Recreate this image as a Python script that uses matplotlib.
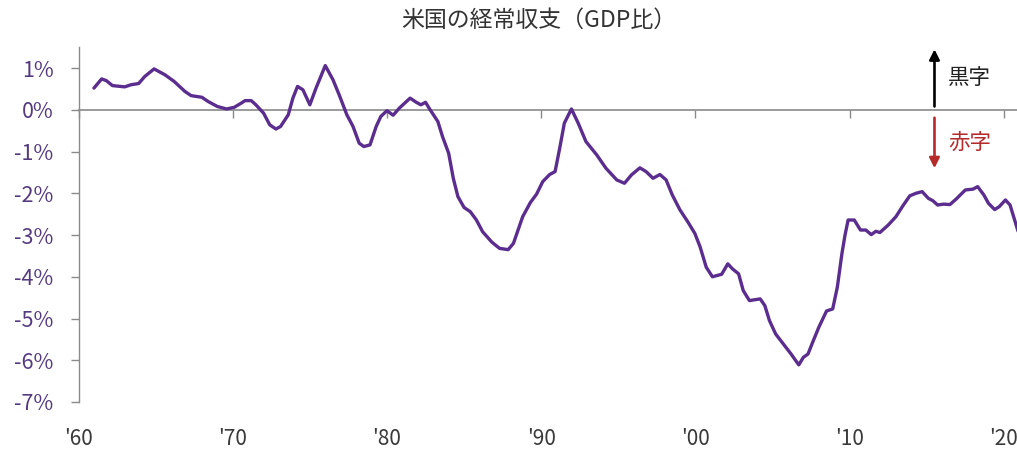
import matplotlib
matplotlib.use("Agg")
import matplotlib.pyplot as plt

plt.rcParams['font.family'] = ['Noto Sans CJK JP', 'DejaVu Sans']

title = "米国の経常収支（GDP比）"

years = [
    1961.0, 1961.5, 1961.8, 1962.2, 1962.7, 1963.0, 1963.4, 1963.9, 1964.3, 1964.9,
    1965.6, 1966.2, 1966.9, 1967.3, 1968.0, 1968.4, 1969.0, 1969.6, 1970.1, 1970.55,
    1970.8, 1971.2, 1971.5, 1972.0, 1972.4, 1972.8, 1973.1, 1973.6, 1973.9, 1974.2,
    1974.55, 1975.0, 1975.4, 1976.0, 1976.5, 1976.9, 1977.4, 1977.8, 1978.2, 1978.5,
    1978.9, 1979.3, 1979.6, 1980.0, 1980.4, 1980.8, 1981.5, 1981.9, 1982.2, 1982.5,
    1982.8, 1983.3, 1983.6, 1984.0, 1984.3, 1984.6, 1985.0, 1985.4, 1985.8, 1986.2,
    1986.8, 1987.3, 1987.86, 1988.2, 1988.5, 1988.8, 1989.3, 1989.7, 1990.1, 1990.55,
    1990.9, 1991.2, 1991.5, 1991.96, 1992.4, 1992.9, 1993.6, 1994.2, 1994.9, 1995.4,
    1995.85, 1996.4, 1996.8, 1997.25, 1997.7, 1998.1, 1998.5, 1999.0, 1999.5, 1999.96,
    2000.3, 2000.7, 2001.1, 2001.7, 2002.1, 2002.4, 2002.8, 2003.1, 2003.5, 2004.2,
    2004.5, 2004.8, 2005.2, 2005.7, 2006.2, 2006.7, 2007.0, 2007.3, 2007.6, 2008.0,
    2008.5, 2008.9, 2009.2, 2009.5, 2009.7, 2009.9, 2010.3, 2010.7, 2011.05, 2011.4,
    2011.7, 2011.96, 2012.5, 2013.0, 2013.45, 2013.9, 2014.3, 2014.7, 2015.1, 2015.4,
    2015.7, 2016.1, 2016.5, 2016.9, 2017.2, 2017.5, 2018.0, 2018.3, 2018.7, 2019.0,
    2019.4, 2019.7, 2020.1, 2020.4, 2020.8, 2020.95,
]
balance_pct = [
    0.52, 0.74, 0.70, 0.58, 0.56, 0.55, 0.60, 0.63, 0.80, 0.98,
    0.84, 0.68, 0.44, 0.34, 0.30, 0.20, 0.08, 0.02, 0.06, 0.16,
    0.22, 0.22, 0.12, -0.08, -0.36, -0.46, -0.40, -0.12, 0.28, 0.56,
    0.48, 0.12, 0.52, 1.06, 0.72, 0.36, -0.12, -0.40, -0.80, -0.88,
    -0.84, -0.40, -0.16, -0.02, -0.13, 0.04, 0.28, 0.18, 0.12, 0.18,
    0.00, -0.28, -0.64, -1.04, -1.64, -2.08, -2.34, -2.44, -2.64, -2.92,
    -3.17, -3.32, -3.35, -3.20, -2.88, -2.56, -2.22, -2.02, -1.72, -1.55,
    -1.48, -0.92, -0.32, 0.02, -0.32, -0.76, -1.08, -1.40, -1.68, -1.76,
    -1.56, -1.39, -1.48, -1.64, -1.55, -1.68, -2.04, -2.40, -2.68, -2.96,
    -3.28, -3.77, -4.00, -3.94, -3.69, -3.81, -3.93, -4.33, -4.57, -4.53,
    -4.69, -5.05, -5.37, -5.61, -5.85, -6.11, -5.93, -5.85, -5.57, -5.21,
    -4.82, -4.77, -4.25, -3.44, -3.00, -2.64, -2.64, -2.88, -2.88, -2.99,
    -2.91, -2.94, -2.76, -2.56, -2.30, -2.06, -2.00, -1.96, -2.12, -2.18,
    -2.28, -2.26, -2.27, -2.14, -2.03, -1.92, -1.90, -1.84, -2.04, -2.24,
    -2.39, -2.32, -2.16, -2.28, -2.76, -2.95,
]

ytick_values = [1, 0, -1, -2, -3, -4, -5, -6, -7]
ytick_labels = ["1%", "0%", "-1%", "-2%", "-3%", "-4%", "-5%", "-6%", "-7%"]
xtick_values = [1960, 1970, 1980, 1990, 2000, 2010, 2020]
xtick_labels = ["'60", "'70", "'80", "'90", "'00", "'10", "'20"]
surplus_label = "黒字"
deficit_label = "赤字"

LINE = "#5b2d8e"
AXIS = "#8a8a8a"
YLAB = "#553a80"
XLAB = "#3a3a3a"
RED = "#b52a2a"

fig = plt.figure(figsize=(10.17, 4.5), dpi=100)
ax = fig.add_axes([78.5 / 1017, 48 / 450, 1 - 78.5 / 1017, (402.4 - 47.6) / 450])

ax.plot(years, balance_pct, color=LINE, lw=2.4, solid_capstyle='round', zorder=3)

ax.set_xlim(1960, 2020.85)
ax.set_ylim(-7, 1.5)

for s in ['top', 'right']:
    ax.spines[s].set_visible(False)
ax.spines['left'].set_color(AXIS)
ax.spines['left'].set_linewidth(1.0)
ax.spines['bottom'].set_position(('data', 0))
ax.spines['bottom'].set_color(AXIS)
ax.spines['bottom'].set_linewidth(1.2)

ax.set_yticks(ytick_values)
ax.set_yticklabels(ytick_labels)
ax.tick_params(axis='y', direction='out', length=6, width=1.0, color=AXIS,
               pad=12, labelsize=15.5, labelcolor=YLAB)

ax.set_xticks(xtick_values)
ax.tick_params(axis='x', direction='out', length=6, width=1.0, color=AXIS,
               labelbottom=False)

sec = ax.secondary_xaxis('bottom')
sec.set_xticks(xtick_values)
sec.set_xticklabels(xtick_labels)
sec.spines['bottom'].set_visible(False)
sec.tick_params(axis='x', length=0, pad=19, labelsize=15, labelcolor=XLAB)

fig.text(539 / 1017, 1 - 20 / 450, title, ha='center', va='center', fontsize=16.5, color='#333333')

ax.annotate("", xy=(2015.5, 1.45), xytext=(2015.5, 0.08),
            arrowprops=dict(arrowstyle='-|>', lw=1.9, color='black', mutation_scale=15,
                            shrinkA=0, shrinkB=0))
ax.text(2016.4, 0.77, surplus_label, ha='left', va='center', fontsize=15.5, color='#222222')
ax.annotate("", xy=(2015.5, -1.4), xytext=(2015.5, -0.19),
            arrowprops=dict(arrowstyle='-|>', lw=1.9, color=RED, mutation_scale=15,
                            shrinkA=0, shrinkB=0))
ax.text(2016.4, -0.8, deficit_label, ha='left', va='center', fontsize=15.5, color=RED)

fig.savefig("out.png", dpi=100)
